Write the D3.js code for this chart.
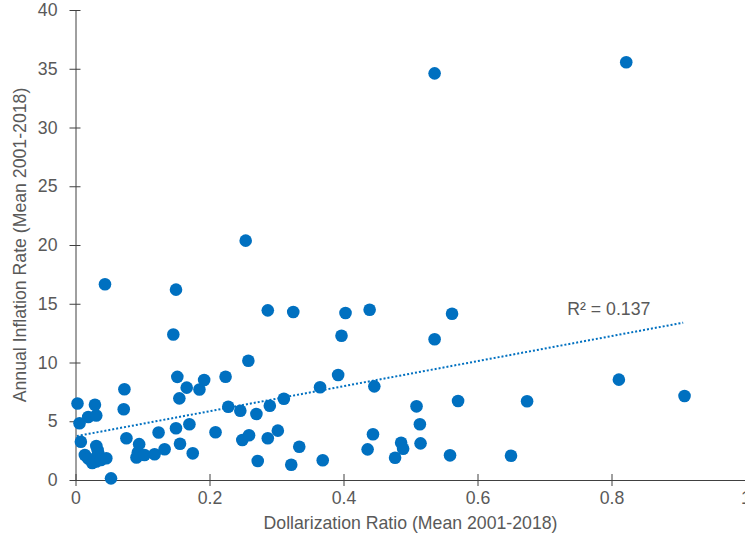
<!DOCTYPE html>
<html>
<head>
<meta charset="utf-8">
<script src="https://cdn.jsdelivr.net/npm/d3@7"></script>
<style>
  html, body { margin: 0; padding: 0; background: #fff; }
  svg { display: block; font-family: "Liberation Sans", Arial, sans-serif; }
</style>
</head>
<body>
<div id="chart"></div>
<script>
// Dollarization ratio (x) vs annual inflation rate (y), means 2001-2018
const dollarization = [
  0.003, 0.029, 0.019, 0.031, 0.006, 0.008, 0.031, 0.033, 0.014, 0.019,
  0.025, 0.031, 0.034, 0.038, 0.046, 0.053, 0.044, 0.073, 0.072, 0.076,
  0.095, 0.093, 0.091, 0.103, 0.118, 0.124, 0.133, 0.146, 0.150, 0.152,
  0.155, 0.150, 0.156, 0.166, 0.170, 0.175, 0.185, 0.192, 0.209, 0.224,
  0.228, 0.246, 0.254, 0.258, 0.249, 0.259, 0.270, 0.272, 0.287, 0.287,
  0.290, 0.302, 0.311, 0.322, 0.325, 0.334, 0.365, 0.369, 0.392, 0.397,
  0.403, 0.439, 0.436, 0.444, 0.446, 0.477, 0.486, 0.489, 0.509, 0.514,
  0.515, 0.536, 0.536, 0.562, 0.559, 0.571, 0.650, 0.674, 0.811, 0.822,
  0.909
];
const inflation = [
  6.51, 6.41, 5.36, 5.49, 4.83, 3.26, 2.89, 2.55, 2.13, 1.83,
  1.45, 1.57, 2.27, 1.70, 1.85, 0.14, 16.66, 7.72, 6.02, 3.55,
  3.05, 2.34, 1.91, 2.13, 2.19, 4.04, 2.62, 12.38, 16.2, 8.78,
  6.95, 4.40, 3.09, 7.86, 4.74, 2.27, 7.70, 8.51, 4.06, 8.79,
  6.24, 5.90, 20.37, 10.15, 3.40, 3.81, 5.62, 1.62, 14.44, 3.55,
  6.32, 4.20, 6.92, 1.30, 14.30, 2.83, 7.89, 1.68, 8.94, 12.28,
  14.21, 14.49, 2.61, 3.89, 7.97, 1.90, 3.17, 2.66, 6.27, 4.74,
  3.12, 11.98, 34.61, 14.15, 2.10, 6.72, 2.07, 6.70, 8.54, 35.55,
  7.15
];

// linear trendline endpoints (dotted) and its label
const trendX = [0.002, 0.907];
const trendY = [3.74, 13.39];
const trendLabel = "R\u00b2 = 0.137";
const trendLabelPos = [0.734, 14.05];

const xTicks = [0, 0.2, 0.4, 0.6, 0.8, 1];
const yTicks = [0, 5, 10, 15, 20, 25, 30, 35, 40];
const xTitle = "Dollarization Ratio (Mean 2001-2018)";
const yTitle = "Annual Inflation Rate (Mean 2001-2018)";

const width = 745;
const height = 537;
const margin = { top: 10, right: -0.5, bottom: 57, left: 75.5 };
const blue = "#0070C0";
const textColor = "#595959";
const axisColor = "#404040";
const fontSize = "17.7px";

const data = dollarization.map((d, i) => ({ x: d, y: inflation[i] }));

const x = d3
  .scaleLinear()
  .domain([0, 1])
  .range([margin.left, width - margin.right]);

const y = d3
  .scaleLinear()
  .domain([0, 40])
  .range([height - margin.bottom, margin.top]);

const svg = d3
  .select("#chart")
  .append("svg")
  .attr("width", width)
  .attr("height", height)
  .attr("viewBox", [0, 0, width, height]);

// Y axis (cross tick marks like Excel)
const yAxis = svg
  .append("g")
  .attr("transform", `translate(${x(0)},0)`)
  .call(
    d3.axisLeft(y).tickValues(yTicks).tickSizeInner(5).tickSizeOuter(0).tickPadding(13)
  );

yAxis.select(".domain").attr("stroke", axisColor);
yAxis.selectAll(".tick line").attr("stroke", axisColor).attr("x1", -6).attr("x2", 5);
yAxis
  .selectAll(".tick text")
  .attr("fill", textColor)
  .style("font-size", fontSize);

// X axis
const xAxis = svg
  .append("g")
  .attr("transform", `translate(0,${y(0)})`)
  .call(
    d3.axisBottom(x).tickValues(xTicks).tickFormat(d3.format("")).tickSizeInner(6).tickSizeOuter(0).tickPadding(5)
  );

xAxis.select(".domain").attr("stroke", axisColor);
xAxis.selectAll(".tick line").attr("stroke", axisColor).attr("y1", -6).attr("y2", 6);
xAxis
  .selectAll(".tick text")
  .attr("fill", textColor)
  .style("font-size", fontSize);

// axis titles
svg
  .append("text")
  .attr("x", (x(0) + x(1)) / 2)
  .attr("y", 529)
  .attr("text-anchor", "middle")
  .attr("fill", textColor)
  .style("font-size", fontSize)
  .text(xTitle);

svg
  .append("text")
  .attr("transform", `translate(26,${(y(0) + y(40)) / 2}) rotate(-90)`)
  .attr("text-anchor", "middle")
  .attr("fill", textColor)
  .style("font-size", fontSize)
  .text(yTitle);

// points
svg
  .append("g")
  .selectAll("circle")
  .data(data)
  .join("circle")
  .attr("cx", (d) => x(d.x))
  .attr("cy", (d) => y(d.y))
  .attr("r", 6.3)
  .attr("fill", blue);

// dotted trendline
const line = d3
  .line()
  .x((d) => x(d[0]))
  .y((d) => y(d[1]));

svg
  .append("path")
  .datum(trendX.map((d, i) => [d, trendY[i]]))
  .attr("fill", "none")
  .attr("stroke", blue)
  .attr("stroke-width", 2)
  .attr("stroke-dasharray", "2 2")
  .attr("d", line);

svg
  .append("text")
  .attr("x", x(trendLabelPos[0]))
  .attr("y", y(trendLabelPos[1]))
  .attr("fill", textColor)
  .style("font-size", fontSize)
  .text(trendLabel);
</script>
</body>
</html>
